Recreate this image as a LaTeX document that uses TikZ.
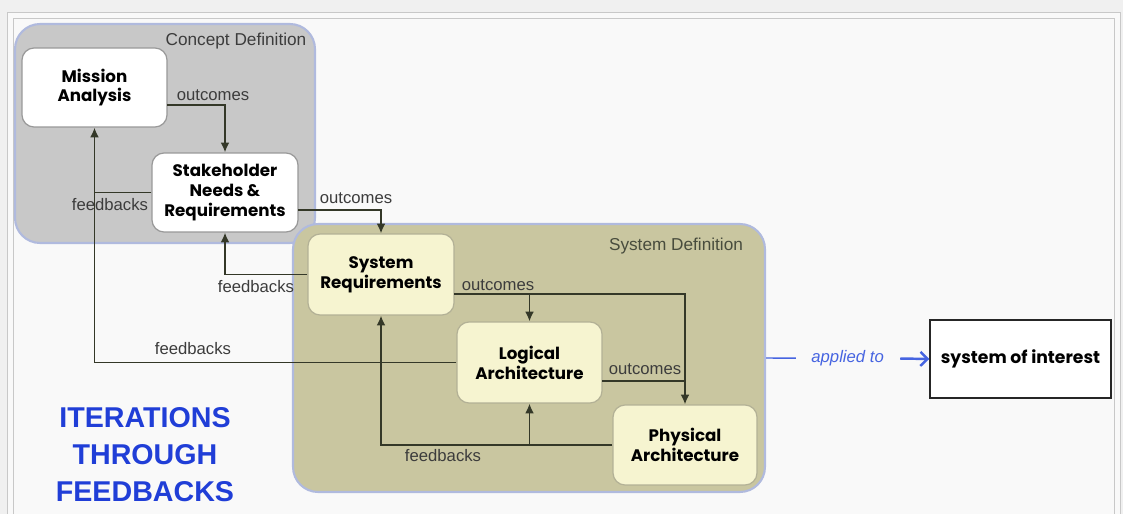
\documentclass[tikz,border=0pt]{standalone}
\usepackage{fontspec}
\setmainfont{Liberation Sans}
\newfontfamily\gothic{Poppins}
\usepackage{tikz}
\usetikzlibrary{arrows,arrows.meta,positioning,calc}
\definecolor{outerbg}{RGB}{240,240,240}
\definecolor{panelbg}{RGB}{249,249,249}
\definecolor{framegray}{RGB}{200,200,200}
\definecolor{conceptfill}{RGB}{200,200,200}
\definecolor{sysfill}{RGB}{201,198,160}
\definecolor{edgeblue}{RGB}{176,186,222}
\definecolor{paleyellow}{RGB}{246,244,208}
\definecolor{linedark}{RGB}{52,56,40}
\definecolor{labelgray}{RGB}{60,60,60}
\definecolor{titleblue}{RGB}{32,62,215}
\definecolor{applyblue}{RGB}{70,100,225}

\begin{document}
\begin{tikzpicture}[x=0.02cm,y=-0.02cm,
  phase/.style={draw=edgeblue,line width=1.2pt,rounded corners=0.5cm},
  stage/.style={draw=gray!80,line width=0.7pt,rounded corners=0.24cm,fill=white,
    align=center,inner sep=1pt,font=\gothic\bfseries\fontsize{9.5}{11.3}\selectfont},
  sysstage/.style={stage,fill=paleyellow,draw=sysfill!70!gray},
  flow/.style={draw=linedark,line width=1pt,-{Latex[length=5.5pt,width=5pt]}},
  link/.style={draw=linedark,line width=1pt},
  lbl/.style={text=labelgray,inner sep=1pt,font=\fontsize{9.5}{11}\selectfont}]
\useasboundingbox (0,0) rectangle (1123,514);
\fill[outerbg] (0,0) rectangle (1123,514);
\draw[framegray,fill=panelbg] (7,12) rectangle (1120,540);
\draw[framegray] (13,18) rectangle (1114,540);

% phases
\node[phase,fill=conceptfill,minimum width=6cm,minimum height=4.38cm] (concept) at (165,133.5) {};
\node[phase,fill=sysfill,minimum width=9.44cm,minimum height=5.36cm] (sysdef) at (529,358) {};
\node[text=labelgray,font=\fontsize{9.8}{11}\selectfont] (concepttitle) at (236,41) {Concept Definition};
\node[text=linedark!90,font=\fontsize{9.8}{11}\selectfont] (systitle) at (676,246) {System Definition};

% processes
\node[stage,minimum width=2.9cm,minimum height=1.58cm] (mission) at (94.5,87.5) {Mission\\Analysis};
\node[stage,minimum width=2.92cm,minimum height=1.58cm] (stakeholder) at (225,192.5) {Stakeholder\\Needs \&\\Requirements};
\node[sysstage,minimum width=2.92cm,minimum height=1.62cm] (sysreq) at (381,274.5) {System\\Requirements};
\node[sysstage,minimum width=2.9cm,minimum height=1.62cm] (logical) at (529.5,362.5) {Logical\\Architecture};
\node[sysstage,minimum width=2.88cm,minimum height=1.6cm] (physical) at (685,445) {Physical\\Architecture};
\node[draw=black!85,line width=0.9pt,fill=white,minimum width=3.62cm,minimum height=1.56cm,
  font=\gothic\fontsize{9.8}{11}\selectfont\bfseries] (soi) at (1020.5,359) {system of interest};

% outcomes
\coordinate (m1) at (167,105);
\coordinate (s1) at (298,210);
\coordinate (r1) at (454,294);
\coordinate (l1) at (602,381);
\draw[flow] (m1) -| (stakeholder.north);
\draw[flow] (s1) -| (sysreq.north);
\draw[flow] (r1) -| (physical.north);
\draw[flow] (r1 -| logical.north) -- (logical.north);
\draw[link] (l1) -- (l1 -| physical.north);

% feedbacks
\draw[flow] (sysreq.west) -| (stakeholder.south);
\draw[flow] (logical.west) -| (mission.south);
\draw[link] (stakeholder.west) -- (stakeholder.west -| mission.south);
\draw[flow] (physical.west) -| (sysreq.south);
\draw[flow] (physical.west -| logical.south) -- (logical.south);

\node[lbl] (out1) at (213,95) {outcomes};
\node[lbl] (out2) at (356,198) {outcomes};
\node[lbl] (out3) at (498,285) {outcomes};
\node[lbl] (out4) at (645,369) {outcomes};
\node[lbl] (fb1) at (110,205) {feedbacks};
\node[lbl] (fb2) at (256,287) {feedbacks};
\node[lbl] (fb3) at (193,349) {feedbacks};
\node[lbl] (fb4) at (443,456) {feedbacks};

% applied to
\draw[applyblue,line width=0.8pt] (sysdef.east) -- node[fill=panelbg,text=applyblue,inner xsep=9pt,
  font=\itshape\fontsize{9.5}{11}\selectfont] (applied) {applied to} (soi.west);
\draw[applyblue,line width=1.4pt,-{Straight Barb[length=4pt,width=8pt]}] (applied.east) -- (soi.west);

\node[text=titleblue,align=center,font=\bfseries\fontsize{16.3}{21}\selectfont] (iter) at (145,455)
  {ITERATIONS\\THROUGH\\FEEDBACKS};
\end{tikzpicture}
\end{document}
